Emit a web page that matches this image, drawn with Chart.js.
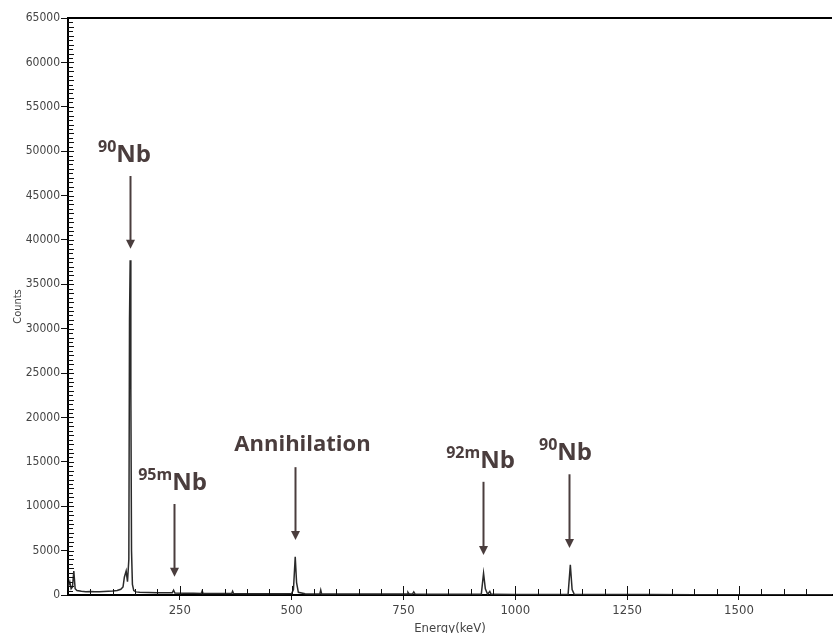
<!DOCTYPE html>
<html>
<head>
<meta charset="utf-8">
<script src="https://cdn.jsdelivr.net/npm/chart.js@4.4.0/dist/chart.umd.min.js"></script>
<style>
    html, body { margin: 0; padding: 0; background: #fff; overflow: hidden; }
    #wrap { width: 835px; height: 633px; }
</style>
</head>
<body>
<div id="wrap"><canvas id="spectrumChart" width="835" height="633"></canvas></div>
<script>
// ===== DATA =====

// energy of each point, keV
const energies = [
    0, 4, 7, 10, 13, 16, 20, 30, 40, 50, 60, 70, 80, 90, 100, 110, 118, 123, 126, 130, 133,
    136, 137.5, 139, 140.5, 142, 144, 147, 152, 160, 180, 200, 220, 233, 236, 239, 260, 280,
    298, 300, 302, 320, 340, 366, 368, 370, 400, 430, 450, 480, 500, 504, 508, 511, 515, 530,
    560, 563, 565, 567, 600, 650, 700, 750, 758, 760, 763, 770, 773, 776, 800, 850, 900, 924,
    929, 933, 938, 943, 946, 950, 1000, 1050, 1100, 1118, 1123, 1127, 1132, 1150, 1200, 1300,
    1400, 1500, 1600, 1708
];

// counts at each energy
const counts = [
    900, 1500, 700, 900, 2700, 700, 500, 420, 380, 400, 360, 380, 400, 420, 450, 500, 650, 900, 2000, 2700, 1500,
    4000, 31000, 37700, 23000, 5000, 1200, 500, 350, 300, 280, 250, 240, 250, 550, 220, 200, 190,
    180, 450, 180, 180, 170, 160, 420, 160, 150, 140, 150, 140, 160, 600, 4300, 1400, 300, 140,
    120, 120, 550, 120, 110, 100, 100, 100, 100, 300, 100, 100, 350, 100, 90, 80, 80, 90,
    2450, 700, 90, 400, 80, 80, 70, 60, 60, 70, 3400, 600, 60, 55, 50, 45,
    40, 35, 30, 30
];

// axis tick labels
const xTickLabels = [250, 500, 750, 1000, 1250, 1500];
const yTickLabels = [0, 5000, 10000, 15000, 20000, 25000, 30000, 35000, 40000, 45000, 50000, 55000, 60000, 65000];

// peak annotations: isotope mass number, name, arrow energy and arrow extent in counts
const peakMass = ['90', '95m', '', '92m', '90'];
const peakNames = ['Nb', 'Nb', 'Annihilation', 'Nb', 'Nb'];
const peakEnergy = [139, 236, 507, 927, 1121];
const arrowTop = [47200, 10250, 14400, 12750, 13600];
const arrowTip = [39000, 2050, 6200, 4500, 5300];

// ===== CHART =====

const INK = '#4a3d3d';
const labelShift = [-6, -2, 7, -3, -4];   // px, label centre vs arrow
const tickFont = '"Liberation Sans Narrow", "DejaVu Sans Condensed", sans-serif';
const labelFont = '"Open Sans", "DejaVu Sans", sans-serif';

const spectrumMarks = {
    id: 'spectrumMarks',
    afterDatasetsDraw(chart) {
        const { ctx, chartArea } = chart;
        const x = chart.scales.x;
        const y = chart.scales.y;
        ctx.save();

        // inward tick marks
        ctx.strokeStyle = '#111';
        ctx.lineWidth = 1;
        x.ticks.forEach(t => {
            if (t.value % 50 !== 0 || t.value === 0) return;
            const px = Math.round(x.getPixelForValue(t.value)) + 0.5;
            const len = xTickLabels.includes(t.value) ? 9 : 6;
            ctx.beginPath();
            ctx.moveTo(px, chartArea.bottom);
            ctx.lineTo(px, chartArea.bottom - len);
            ctx.stroke();
        });
        y.ticks.forEach(t => {
            if (t.value % 500 !== 0 || t.value === 0) return;
            const py = Math.round(y.getPixelForValue(t.value)) + 0.5;
            const len = t.value % 1000 === 0 ? 6 : 5;
            ctx.beginPath();
            ctx.moveTo(chartArea.left, py);
            ctx.lineTo(chartArea.left + len, py);
            ctx.stroke();
        });

        // top frame line
        ctx.strokeStyle = '#000';
        ctx.lineWidth = 2;
        ctx.beginPath();
        ctx.moveTo(chartArea.left, chartArea.top);
        ctx.lineTo(chartArea.right, chartArea.top);
        ctx.stroke();

        // arrows and labels
        peakNames.forEach((name, i) => {
            const px = Math.round(x.getPixelForValue(peakEnergy[i])) + 0.5;
            const yTop = y.getPixelForValue(arrowTop[i]);
            const yTip = y.getPixelForValue(arrowTip[i]);

            ctx.strokeStyle = INK;
            ctx.fillStyle = INK;
            ctx.lineWidth = 2;
            ctx.beginPath();
            ctx.moveTo(px, yTop);
            ctx.lineTo(px, yTip - 6);
            ctx.stroke();
            ctx.beginPath();
            ctx.moveTo(px - 4.5, yTip - 9);
            ctx.lineTo(px + 4.5, yTip - 9);
            ctx.lineTo(px, yTip);
            ctx.closePath();
            ctx.fill();

            const isWord = peakMass[i] === '';
            const mainFont = `bold ${isWord ? 22 : 24}px ${labelFont}`;
            const supFont = `bold 16px ${labelFont}`;
            ctx.font = supFont;
            const supW = peakMass[i] ? ctx.measureText(peakMass[i]).width : 0;
            ctx.font = mainFont;
            const mainW = ctx.measureText(name).width;
            const base = yTop - (isWord ? 16 : 14);
            let sx = px + labelShift[i] - (supW + mainW) / 2;
            ctx.textBaseline = 'alphabetic';
            ctx.textAlign = 'left';
            if (peakMass[i]) {
                ctx.font = supFont;
                ctx.fillText(peakMass[i], sx, base - 10);
                sx += supW;
            }
            ctx.font = mainFont;
            ctx.fillText(name, sx, base);
        });
        ctx.restore();
    }
};

const ctx = document.getElementById('spectrumChart');
new Chart(ctx, {
    type: 'scatter',
    data: {
        datasets: [{
            label: 'Counts',
            data: energies.map((e, i) => ({ x: e, y: counts[i] })),
            showLine: true,
            borderColor: '#2a2a2a',
            borderWidth: 1.5,
            pointRadius: 0,
            tension: 0
        }]
    },
    options: {
        responsive: false,
        animation: false,
        devicePixelRatio: 1,
        layout: { padding: { top: 18, right: 0, left: 0, bottom: 0 } },
        plugins: {
            legend: { display: false },
            tooltip: { enabled: false }
        },
        scales: {
            x: {
                type: 'linear',
                min: 0,
                max: 1708,
                afterFit: scale => { scale.height = 38; },
                border: { color: '#000', width: 2 },
                grid: {
                    drawOnChartArea: false,
                    tickLength: 5,
                    color: c => (c.tick && xTickLabels.includes(c.tick.value)) ? '#111' : 'rgba(0,0,0,0)'
                },
                ticks: {
                    stepSize: 50,
                    autoSkip: false,
                    maxRotation: 0,
                    padding: 3,
                    color: '#444',
                    font: { family: tickFont, size: 13 },
                    callback: v => xTickLabels.includes(v) ? v : ''
                },
                title: {
                    display: true,
                    text: 'Energy(keV)',
                    color: '#444',
                    font: { family: tickFont, size: 13 },
                    padding: { top: 0, bottom: -3 }
                }
            },
            y: {
                min: 0,
                max: 65000,
                afterFit: scale => { scale.width = 68; },
                border: { color: '#000', width: 2 },
                grid: {
                    drawOnChartArea: false,
                    tickLength: 7,
                    color: c => (c.tick && yTickLabels.includes(c.tick.value)) ? '#111' : 'rgba(0,0,0,0)'
                },
                ticks: {
                    stepSize: 500,
                    maxTicksLimit: 200,
                    autoSkip: false,
                    padding: 1,
                    color: '#444',
                    font: { family: tickFont, size: 12 },
                    callback: v => yTickLabels.includes(v) ? v : ''
                },
                title: {
                    display: true,
                    text: 'Counts',
                    color: '#444',
                    font: { family: tickFont, size: 11 },
                    padding: { top: 12, bottom: 0 }
                }
            }
        }
    },
    plugins: [spectrumMarks]
});
</script>
</body>
</html>
